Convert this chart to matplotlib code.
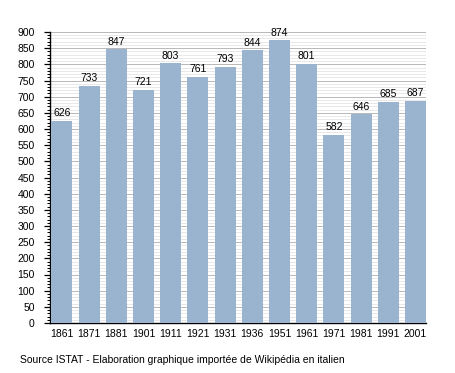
import numpy as np
import matplotlib.pyplot as plt
from matplotlib.ticker import MultipleLocator

plt.rcParams['font.family'] = ['Liberation Sans', 'DejaVu Sans']

years = ['1861', '1871', '1881', '1901', '1911', '1921', '1931', '1936',
         '1951', '1961', '1971', '1981', '1991', '2001']
population = [626, 733, 847, 721, 803, 761, 793, 844, 874, 801, 582, 646, 685, 687]

fig = plt.figure(figsize=(4.55, 3.73), dpi=100)
ax = fig.add_axes([50/455, 1-323/373, 376/455, 291/373])

x = np.arange(len(years))
w = 0.77
ax.bar(x, population, width=w, align='edge', color='#9ab3cf', zorder=3)
for xi, v in zip(x, population):
    ax.text(xi + w/2, v + 8, str(v), ha='center', va='bottom', fontsize=7.5, zorder=4)

ax.set_xlim(-0.05, len(years) - 1 + w)
ax.set_ylim(0, 900)
ax.yaxis.set_major_locator(MultipleLocator(50))
ax.yaxis.set_minor_locator(MultipleLocator(10))
ax.grid(axis='y', which='minor', color='#e4e4e4', linewidth=0.6, zorder=0)
ax.grid(axis='y', which='major', color='#b8b8b8', linewidth=0.7, zorder=1)

ax.set_xticks(x + w/2)
ax.set_xticklabels(years)
ax.tick_params(axis='x', length=0, labelsize=7.5, pad=4)
ax.tick_params(axis='y', which='major', length=4, width=0.9, labelsize=7.5, direction='out', pad=7)
ax.tick_params(axis='y', which='minor', length=2, width=0.7, direction='out')

for s in ['top', 'right']:
    ax.spines[s].set_visible(False)
ax.spines['left'].set_linewidth(1.0)
ax.spines['bottom'].set_linewidth(1.0)

fig.text(20/455, 1-360/373, 'Source ISTAT - Elaboration graphique importée de Wikipédia en italien',
         fontsize=7.5, va='center', ha='left')

fig.savefig('out.png', dpi=100)
